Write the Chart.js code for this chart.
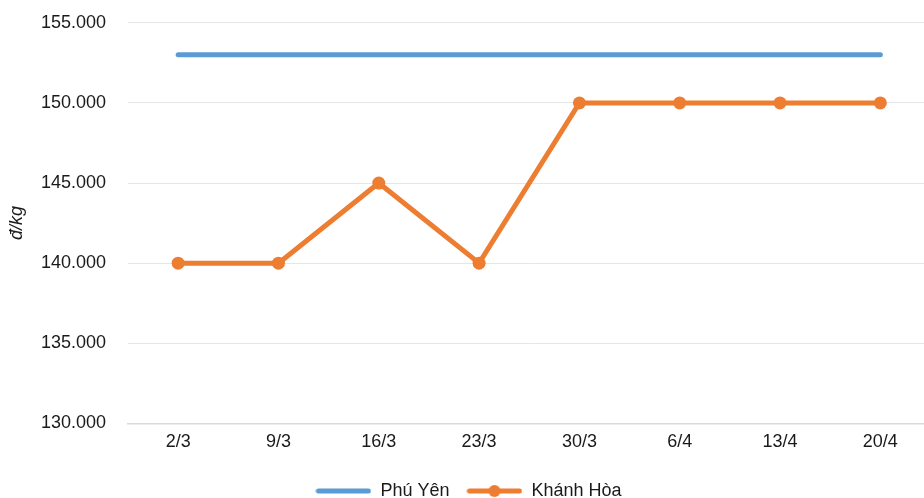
<!DOCTYPE html>
<html>
<head>
<meta charset="utf-8">
<script src="https://cdn.jsdelivr.net/npm/chart.js@4"></script>
<style>
  html, body { margin: 0; padding: 0; background: #fff; }
  #wrap { width: 924px; height: 498px; overflow: hidden; position: relative; }
  #chart { position: absolute; left: 0; top: -10px; }
</style>
</head>
<body>
<div id="wrap"><canvas id="chart" width="937" height="520"></canvas></div>
<script>
const weeks = ["2/3", "9/3", "16/3", "23/3", "30/3", "6/4", "13/4", "20/4"];
const phuYen = [153000, 153000, 153000, 153000, 153000, 153000, 153000, 153000];
const khanhHoa = [140000, 140000, 145000, 140000, 150000, 150000, 150000, 150000];

const BLUE = "#5b9bd5";
const ORANGE = "#ed7d31";

// legend swatches: line, line with a dot
function swatch(color, withDot) {
  const c = document.createElement("canvas");
  c.width = 56; c.height = 14;
  const g = c.getContext("2d");
  g.strokeStyle = color;
  g.lineWidth = 5;
  g.lineCap = "round";
  g.beginPath(); g.moveTo(3, 7); g.lineTo(53, 7); g.stroke();
  if (withDot) {
    g.fillStyle = color;
    g.beginPath(); g.arc(28, 7, 6, 0, Math.PI * 2); g.fill();
  }
  return c;
}

function fmt(v) {
  return String(v).replace(/\B(?=(\d{3})+(?!\d))/g, ".");
}

Chart.defaults.font.family = "'Liberation Sans', Arial, sans-serif";
Chart.defaults.font.size = 18;
Chart.defaults.color = "#1a1a1a";

new Chart("chart", {
  type: "line",
  data: {
    labels: weeks,
    datasets: [{
      label: "Phú Yên",
      data: phuYen,
      borderColor: BLUE,
      backgroundColor: BLUE,
      borderWidth: 5,
      borderCapStyle: "round",
      pointRadius: 0,
      pointHoverRadius: 0,
      tension: 0
    }, {
      label: "Khánh Hòa",
      data: khanhHoa,
      borderColor: ORANGE,
      backgroundColor: ORANGE,
      borderWidth: 5,
      pointRadius: 6.5,
      pointBorderWidth: 0,
      pointBackgroundColor: ORANGE,
      pointStyle: "circle",
      tension: 0
    }]
  },
  options: {
    responsive: false,
    animation: false,
    layout: { padding: 0 },
    plugins: {
      tooltip: { enabled: false },
      legend: {
        position: "bottom",
        labels: {
          usePointStyle: true,
          pointStyleWidth: 56,
          padding: 17,
          generateLabels: function (chart) {
            return chart.data.datasets.map(function (ds, i) {
              return {
                text: ds.label,
                fillStyle: ds.borderColor,
                strokeStyle: ds.borderColor,
                lineWidth: 0,
                pointStyle: swatch(ds.borderColor, i === 1),
                datasetIndex: i,
                fontColor: "#1a1a1a"
              };
            });
          }
        }
      }
    },
    scales: {
      x: {
        offset: true,
        grid: { display: false },
        border: { color: "#d9d9d9", width: 1.5 },
        ticks: { padding: 0 },
        afterFit: function (s) { s.height += 12; }
      },
      y: {
        min: 130000,
        max: 155000,
        ticks: { stepSize: 5000, padding: 22, callback: fmt },
        grid: { color: "#e6e6e6", drawTicks: false },
        border: { display: false },
        title: {
          display: true,
          text: "đ/kg",
          font: { style: "italic", size: 18 },
          padding: { top: 6, bottom: 0 }
        },
        afterFit: function (s) { s.width = 128; }
      }
    }
  }
});
</script>
</body>
</html>
